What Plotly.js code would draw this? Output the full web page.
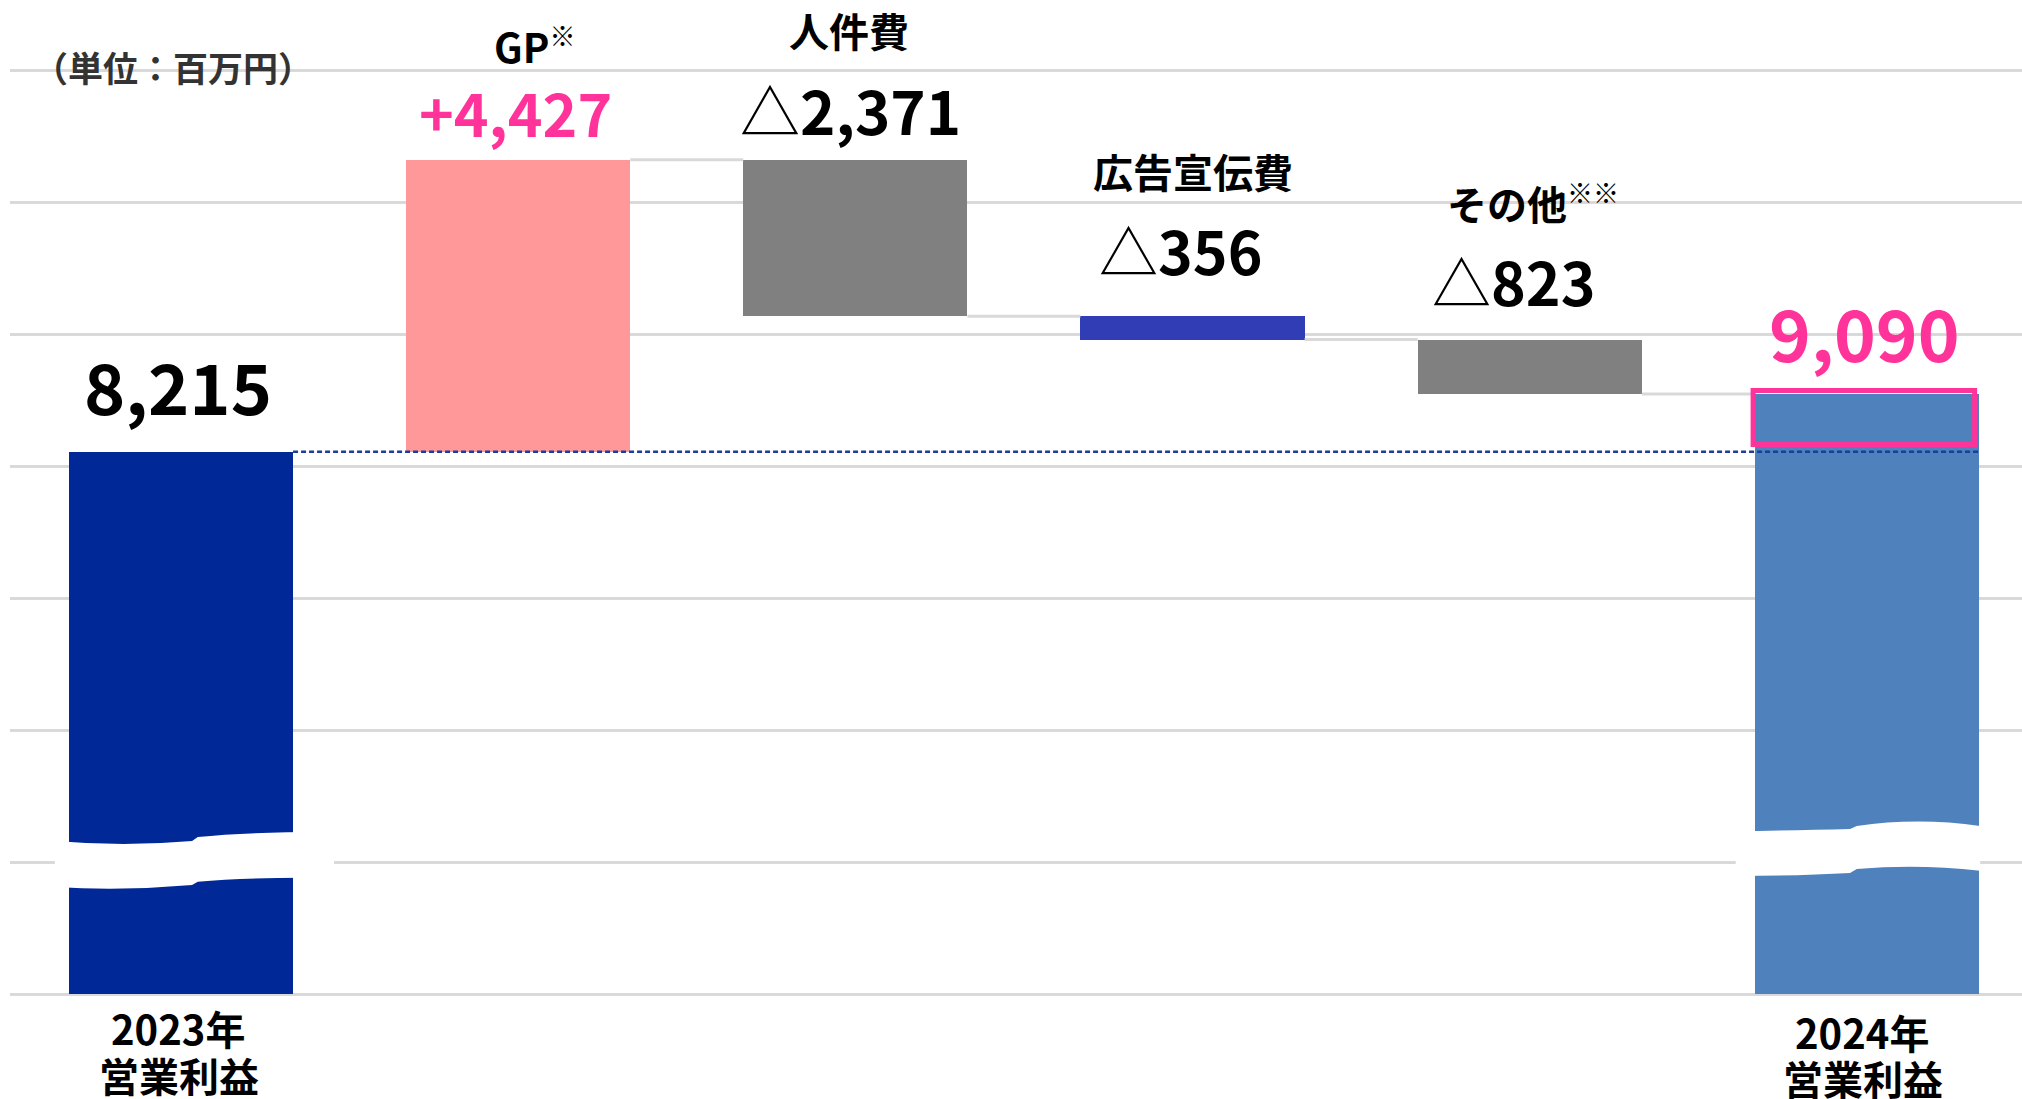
<!DOCTYPE html>
<html>
<head>
<meta charset="utf-8">
<script src="https://cdn.plot.ly/plotly-3.0.1.min.js"></script>
<style>
  html, body { margin: 0; padding: 0; background: #ffffff; }
  #chart { width: 2022px; height: 1099px; }
</style>
</head>
<body>
<div id="chart"></div>
<script>
// ---------------- data ----------------
const categories = ['2023年<br>営業利益', 'GP', '人件費', '広告宣伝費', 'その他', '2024年<br>営業利益'];
const noteMarks = ['', '※', '', '', '※※', ''];
const startValue = 8215;
const changes = [4427, -2371, -356, -823];
const endValue = 9090;
const unitLabel = '（単位：百万円）';

// ---------------- styles ----------------
const FONT = "'Noto Sans CJK JP', 'Noto Sans', sans-serif";
const barColors = ['#002896', '#FF9999', '#808080', '#303DB5', '#808080', '#4F81BD'];
const valueColors = ['#000000', '#FF3399', '#000000', '#000000', '#000000', '#FF3399'];
const valueSizes = [70, 59, 60, 59, 59, 71];
const valueShiftY = [67, 48, 51, 67, 59, 63];
const valueShiftX = [-3, -3, -5, -12, -16, -2];
const nameShiftY = [0, 114, 130, 145, 137, 0];
const nameShiftX = [0, 16, -6, 0, 3, 0];
const bottomShiftY = [[-34, -81], null, null, null, null, [-38, -84]];
const bottomShiftX = [[-3, -2], null, null, null, null, [-5, -4]];
const BAR_W = 0.665;

// ---------------- derived geometry ----------------
const xs = categories.map((_, i) => i);
const bases = [0];
const heights = [startValue];
const levels = [startValue];
let level = startValue;
changes.forEach(d => {
  if (d >= 0) { bases.push(level); heights.push(d); }
  else { bases.push(level + d); heights.push(-d); }
  level += d;
  levels.push(level);
});
bases.push(0);
heights.push(endValue);
const tops = bases.map((b, i) => b + heights[i]);

function fmt(v) { return Math.abs(v).toLocaleString('en-US'); }
const valueTexts = [fmt(startValue)]
  .concat(changes.map(d => d >= 0
    ? '+' + fmt(d)
    : "<span style='font-weight:normal'>△</span>" + fmt(d)))
  .concat([fmt(endValue)]);

const trace = {
  type: 'bar',
  x: xs,
  y: heights,
  base: bases,
  width: BAR_W,
  marker: { color: barColors, line: { width: 0 } },
  hoverinfo: 'skip',
  showlegend: false
};

// ---------------- shapes ----------------
const shapes = [];
// connectors between floating bars
for (let i = 1; i < categories.length - 1; i++) {
  shapes.push({
    type: 'line', xref: 'x', yref: 'y', layer: 'above',
    x0: i + BAR_W / 2, x1: i + 1 - BAR_W / 2, y0: levels[i], y1: levels[i],
    line: { color: '#D9D9D9', width: 3 }
  });
}
// dashed reference line at starting value
shapes.push({
  type: 'line', xref: 'x', yref: 'y', layer: 'above',
  x0: 0 + BAR_W / 2, x1: categories.length - 1 + BAR_W / 2, y0: startValue, y1: startValue,
  line: { color: '#1D3C9E', width: 2.5, dash: '5px,3px' }
});
// axis-break marks (white wave bands)
function breakPath(c, pts) {
  return pts.map(p => {
    if (p[0] === 'M' || p[0] === 'L') return p[0] + ' ' + (c + p[1]) + ',' + p[2];
    if (p[0] === 'Q') return 'Q ' + (c + p[1]) + ',' + p[2] + ' ' + (c + p[3]) + ',' + p[4];
    return p[0];
  }).join(' ');
}
const break2023 = [
  ['M', -0.374, 2318], ['Q', -0.17, 2228, 0.033, 2318], ['L', 0.05, 2379],
  ['Q', 0.2, 2460, 0.454, 2455], ['L', 0.454, 1758],
  ['Q', 0.2, 1775, 0.05, 1702], ['L', 0.033, 1652],
  ['Q', -0.17, 1560, -0.374, 1621], ['Z']
];
const break2024 = [
  ['M', -0.389, 2465], ['Q', -0.2, 2480, -0.05, 2500], ['L', -0.03, 2545],
  ['Q', 0.15, 2680, 0.336, 2545], ['L', 0.336, 1868],
  ['Q', 0.15, 1977, -0.03, 1894], ['L', -0.05, 1833],
  ['Q', -0.2, 1790, -0.389, 1788], ['Z']
];
shapes.push({ type: 'path', xref: 'x', yref: 'y', layer: 'above',
  path: breakPath(0, break2023), fillcolor: '#ffffff', line: { width: 0 } });
shapes.push({ type: 'path', xref: 'x', yref: 'y', layer: 'above',
  path: breakPath(categories.length - 1, break2024), fillcolor: '#ffffff', line: { width: 0 } });
// highlight of the increase on the final bar
const last = categories.length - 1;
shapes.push({
  type: 'rect', xref: 'x', yref: 'y', layer: 'above',
  x0: last - BAR_W / 2 - 0.005, x1: last + BAR_W / 2 - 0.013,
  y0: startValue + 110, y1: endValue + 55,
  fillcolor: 'rgba(0,0,0,0)',
  line: { color: '#FF3399', width: 5 }
});

// ---------------- annotations ----------------
const annotations = [];
categories.forEach((cat, i) => {
  // value labels
  annotations.push({
    x: i, y: tops[i], xref: 'x', yref: 'y',
    text: valueTexts[i], showarrow: false,
    xanchor: 'center', yanchor: 'middle',
    xshift: valueShiftX[i], yshift: valueShiftY[i],
    font: { family: FONT, size: valueSizes[i], color: valueColors[i], weight: 700 }
  });
  if (i === 0 || i === last) {
    // bottom labels (two lines)
    cat.split('<br>').forEach((line, k) => {
      annotations.push({
        x: i, y: 0, xref: 'x', yref: 'y',
        text: line, showarrow: false,
        xanchor: 'center', yanchor: 'middle',
        xshift: bottomShiftX[i][k], yshift: bottomShiftY[i][k],
        font: { family: FONT, size: 40, color: '#000000', weight: 700 }
      });
    });
  } else {
    const mark = noteMarks[i]
      ? "<sup><span style='font-size:26px;font-weight:normal'>" + noteMarks[i] + "</span></sup>"
      : '';
    annotations.push({
      x: i, y: tops[i], xref: 'x', yref: 'y',
      text: cat + mark, showarrow: false,
      xanchor: 'center', yanchor: 'middle',
      xshift: nameShiftX[i], yshift: nameShiftY[i],
      font: { family: FONT, size: 40, color: '#000000', weight: 700 }
    });
  }
});
annotations.push({
  x: 0.0105, y: 0.9376, xref: 'paper', yref: 'paper',
  text: unitLabel, showarrow: false, xanchor: 'left', yanchor: 'middle',
  font: { family: FONT, size: 35, color: '#333333', weight: 700 }
});

const layout = {
  width: 2022, height: 1099,
  margin: { l: 10, r: 0, t: 4, b: 101, pad: 0 },
  paper_bgcolor: '#ffffff', plot_bgcolor: '#ffffff',
  showlegend: false,
  bargap: 0,
  xaxis: {
    type: 'linear', range: [-0.507, 5.46],
    showgrid: false, zeroline: false, showticklabels: false, showline: false, ticks: ''
  },
  yaxis: {
    range: [-60, 15000], tick0: 0, dtick: 2000,
    showgrid: true, gridcolor: '#D9D9D9', gridwidth: 3,
    zeroline: false, showticklabels: false, showline: false, ticks: ''
  },
  shapes: shapes,
  annotations: annotations,
  font: { family: FONT }
};

Plotly.newPlot('chart', [trace], layout, { staticPlot: true, displayModeBar: false });
</script>
</body>
</html>
